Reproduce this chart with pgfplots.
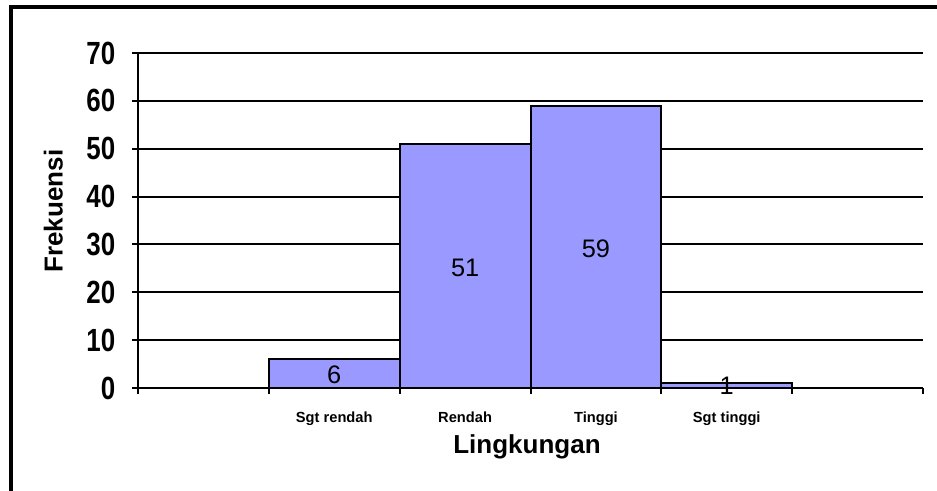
\documentclass[border=0pt]{standalone}
\usepackage{pgfplots}
\pgfplotsset{compat=1.18}
\usepackage{fontspec}
\setmainfont{Liberation Sans}
\definecolor{barblue}{HTML}{9999FF}
\begin{document}
\begin{tikzpicture}
\useasboundingbox (0pt,0pt) rectangle (702.75pt,368.25pt);
\draw[line width=2.4pt] (8.25pt,0pt) -- (8.25pt,363pt) -- (702.75pt,363pt);
\begin{axis}[
  at={(103.5pt,77.25pt)}, anchor=south west,
  scale only axis, width=588.75pt, height=251.25pt,
  xmin=-0.5, xmax=5.5, ymin=0, ymax=70,
  ytick={0,10,...,70},
  yticklabel={\scalebox{1.05}[1.3]{\pgfmathprintnumber{\tick}}},
  xtick={-0.5,0.5,...,5.5}, xticklabels={},
  extra x ticks={1,2,3,4},
  extra x tick labels={Sgt rendah,Rendah,Tinggi,Sgt tinggi},
  extra x tick style={major tick length=0pt, grid=none,
     xticklabel style={font=\bfseries\fontsize{11}{13}\selectfont, yshift=-14.5pt}},
  ymajorgrids, grid style={black, line width=1.5pt},
  axis x line*=bottom, axis y line*=left,
  axis line style={line width=1.5pt, black},
  tick align=outside, major tick length=4.5pt,
  tick style={black, line width=1.5pt},
  /pgf/number format/assume math mode=true,
  yticklabel style={font=\bfseries\fontsize{18.5}{21}\selectfont, xshift=-9pt},
  ylabel={Frekuensi},
  ylabel style={font=\bfseries\fontsize{19.5}{22}\selectfont, at={(axis description cs:-0.108,0.528)}, anchor=center},
  xlabel={Lingkungan},
  xlabel style={font=\bfseries\fontsize{19.5}{22}\selectfont, at={(axis description cs:0.4955,-0.176)}, anchor=center},
  clip=false,
]
\addplot[ybar, bar width=1, fill=barblue, draw=black, line width=1.5pt] coordinates {(1,6) (2,51) (3,59) (4,1)};
\addplot[draw=none, mark=none, nodes near coords, point meta=explicit symbolic,
  every node near coord/.style={anchor=center, font=\fontsize{19}{21}\selectfont, text=black}]
  coordinates {(1,2.8) [6] (2,25) [51] (3,29) [59] (4,0.5) [1]};
\end{axis}
\end{tikzpicture}
\end{document}
